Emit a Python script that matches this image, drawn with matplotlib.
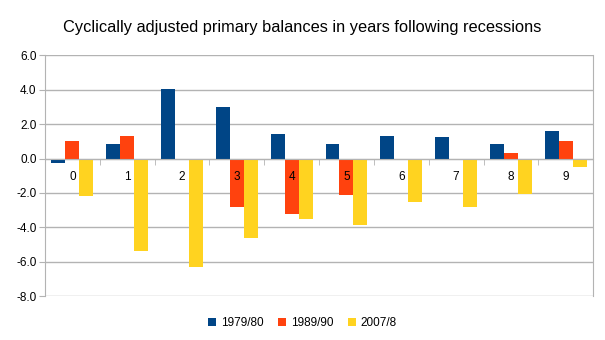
import numpy as np
import matplotlib
matplotlib.use('Agg')
import matplotlib.pyplot as plt
from matplotlib.ticker import FixedLocator

plt.rcParams['font.family'] = ['Liberation Sans', 'DejaVu Sans']

# Daten
years = ['0', '1', '2', '3', '4', '5', '6', '7', '8', '9']
series = ['1979/80', '1989/90', '2007/8']
v1979 = [-0.27, 0.87, 4.06, 3.01, 1.45, 0.87, 1.33, 1.28, 0.87, 1.62]
v1989 = [1.04, 1.33, -0.10, -2.82, -3.23, -2.13, -0.10, 0.0, 0.35, 1.04]
v2007 = [-2.18, -5.37, -6.30, -4.62, -3.52, -3.86, -2.53, -2.82, -2.07, -0.50]
colors = ['#004586', '#ff420e', '#ffd320']

fig = plt.figure(figsize=(6.05, 3.4), dpi=100)
ax = fig.add_axes([0.0744, 0.129, 0.906, 0.708])

x = np.arange(len(years))
w = 0.255
for k, (vals, name) in enumerate(zip([v1979, v1989, v2007], series)):
    ax.bar(x + (k - 1) * w, vals, width=w, color=colors[k], label=name, zorder=2)

ax.set_xlim(-0.5, len(years) - 0.5)
ax.set_ylim(-8, 6)
ax.set_yticks(np.arange(-8, 6.1, 2))
ax.set_yticklabels(['%.1f' % t for t in np.arange(-8, 6.1, 2)], fontsize=8.5)
ax.yaxis.grid(True, color='#b3b3b3', linewidth=1)
ax.tick_params(axis='y', length=4, color='#b3b3b3', pad=2)

# Gitter unter den Balken, Kategorien darueber
ax.yaxis.set_zorder(0.5)
ax.xaxis.set_zorder(4)

# x-Achse auf Nulllinie
ax.spines['bottom'].set_position(('data', 0))
ax.spines['bottom'].set_color('#b3b3b3')
ax.spines['top'].set_visible(False)
ax.spines['left'].set_color('#b3b3b3')
ax.spines['right'].set_color('#b3b3b3')
ax.set_xticks(x)
ax.set_xticklabels(years, fontsize=8.5)
ax.tick_params(axis='x', which='major', length=0, pad=9)
ax.xaxis.set_minor_locator(FixedLocator(np.arange(0.5, len(years) - 1, 1.0)))
ax.tick_params(axis='x', which='minor', length=4, color='#b3b3b3')

fig.suptitle('Cyclically adjusted primary balances in years following recessions',
             x=0.5, y=0.94, fontsize=11.8)
fig.legend(loc='lower center', bbox_to_anchor=(0.5, 0.0), ncol=3, frameon=False,
           fontsize=8.5, handlelength=0.7, handleheight=0.7, handletextpad=0.4,
           columnspacing=1.2)

fig.savefig('out.png', dpi=100)
